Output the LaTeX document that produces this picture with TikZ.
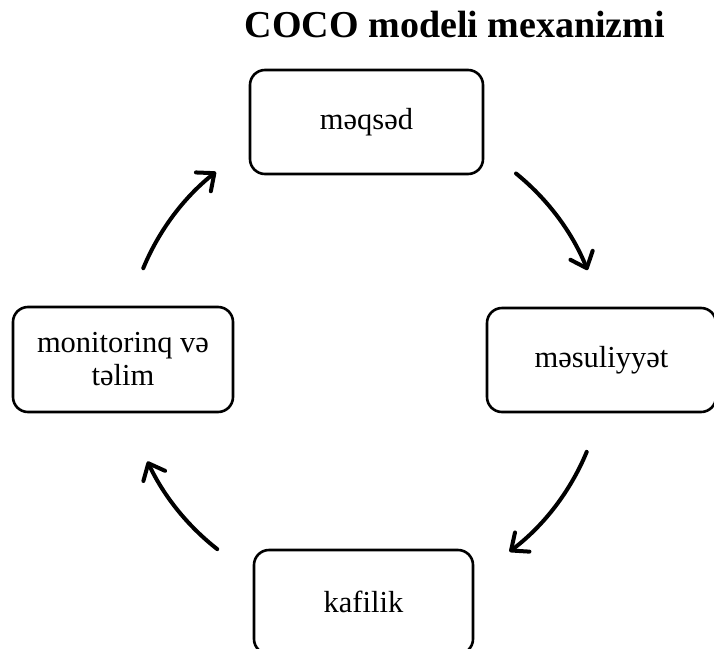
\documentclass[tikz,border=0pt]{standalone}
\usepackage{fontspec}
\setmainfont{Liberation Serif}
\usetikzlibrary{arrows.meta}
\begin{document}
\begin{tikzpicture}[x=1pt,y=-1pt,
  box/.style={draw, line width=2.6pt, rounded corners=15pt, align=center,
    font=\fontsize{30.5}{33}\selectfont, inner sep=0pt},
  cyc/.style={line width=4pt, line cap=round,
    -{Straight Barb[length=14pt,width=24pt,line cap=round,line join=round]}}]
\useasboundingbox (0,0) rectangle (714,648);
\node[font=\fontsize{38}{40}\selectfont\bfseries, anchor=base] (title) at (455,37) {COCO modeli mexanizmi};
\node[box, minimum width=233pt, minimum height=104pt] (meqsed) at (366.5,122) {məqsəd};
\node[box, minimum width=229pt, minimum height=104pt] (mesul) at (601.5,360) {məsuliyyət};
\node[box, minimum width=220pt, minimum height=105pt] (monit) at (123,359.5) {monitorinq və\\təlim};
\node[box, minimum width=219pt, minimum height=104pt] (kafil) at (363.5,602) {kafilik};
\coordinate (c) at (365,360);
\coordinate (a1) at ([shift={(-51:240)}]c);
\coordinate (a2) at ([shift={(22.5:240)}]c);
\coordinate (a3) at ([shift={(128:240)}]c);
\coordinate (a4) at ([shift={(202.5:240)}]c);
\draw[cyc] (a1) arc[start angle=-51, end angle=-22, radius=240];
\draw[cyc] (a2) arc[start angle=22.5, end angle=53, radius=240];
\draw[cyc] (a3) arc[start angle=128, end angle=155, radius=240];
\draw[cyc] (a4) arc[start angle=202.5, end angle=231.6, radius=240];
\end{tikzpicture}
\end{document}
